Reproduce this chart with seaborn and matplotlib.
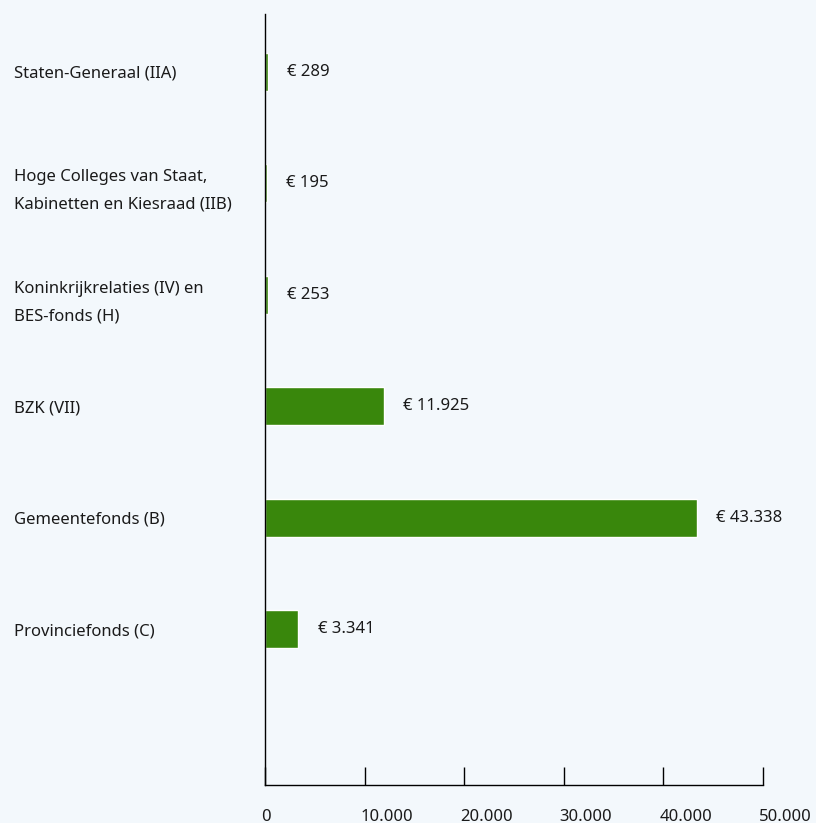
import matplotlib
matplotlib.use("Agg")
import matplotlib.pyplot as plt
import matplotlib.transforms as mtransforms
import seaborn as sns
import pandas as pd

categories = [
    "Staten-Generaal (IIA)",
    "Hoge Colleges van Staat,\nKabinetten en Kiesraad (IIB)",
    "Koninkrijkrelaties (IV) en\nBES-fonds (H)",
    "BZK (VII)",
    "Gemeentefonds (B)",
    "Provinciefonds (C)",
]
values = [289, 195, 253, 11925, 43338, 3341]
xticks = [0, 10000, 20000, 30000, 40000, 50000]
xticklabels = ["0", "10.000", "20.000", "30.000", "40.000", "50.000"]

BG = "#f3f8fc"
GREEN = "#39870c"
TEXT = "#1a1a1a"
FS = 12

sns.set_theme(style="white")
plt.rcParams["font.family"] = ["Noto Sans", "DejaVu Sans"]

fig = plt.figure(figsize=(8.16, 8.23), dpi=100)
fig.patch.set_facecolor(BG)
ax = fig.add_axes([265 / 816, 1 - 785 / 823, (763 - 265) / 816, (785 - 14) / 823])
ax.set_facecolor(BG)

df = pd.DataFrame({"cat": categories, "val": values})
sns.barplot(data=df, x="val", y="cat", orient="h", color=GREEN,
            width=0.34, saturation=1, ax=ax)

ax.set_xlim(0, 50000)
ax.set_ylim(6.4, -0.52)
ax.set_xlabel("")
ax.set_ylabel("")

for s in ["top", "right"]:
    ax.spines[s].set_visible(False)
for s in ["left", "bottom"]:
    ax.spines[s].set_color("black")
    ax.spines[s].set_linewidth(1.0)

ax.set_xticks(xticks)
ax.set_xticklabels(xticklabels, fontsize=FS, color=TEXT, ha="left")
ax.tick_params(axis="x", bottom=True, direction="in", length=13, width=1.0,
               color="black", pad=17)
offset = mtransforms.ScaledTranslation(-4 / 100, 0, fig.dpi_scale_trans)
for lbl in ax.get_xticklabels():
    lbl.set_transform(lbl.get_transform() + offset)

ax.tick_params(axis="y", left=False, length=0, pad=180.7, labelsize=FS, labelcolor=TEXT)
for lbl in ax.get_yticklabels():
    lbl.set_ha("left")
    lbl.set_linespacing(1.95)

labels = ["€ " + f"{v:,}".replace(",", ".") for v in values]
ax.bar_label(ax.containers[0], labels=labels, padding=14, fontsize=FS, color=TEXT)

fig.savefig("out.png", dpi=100, facecolor=BG)
